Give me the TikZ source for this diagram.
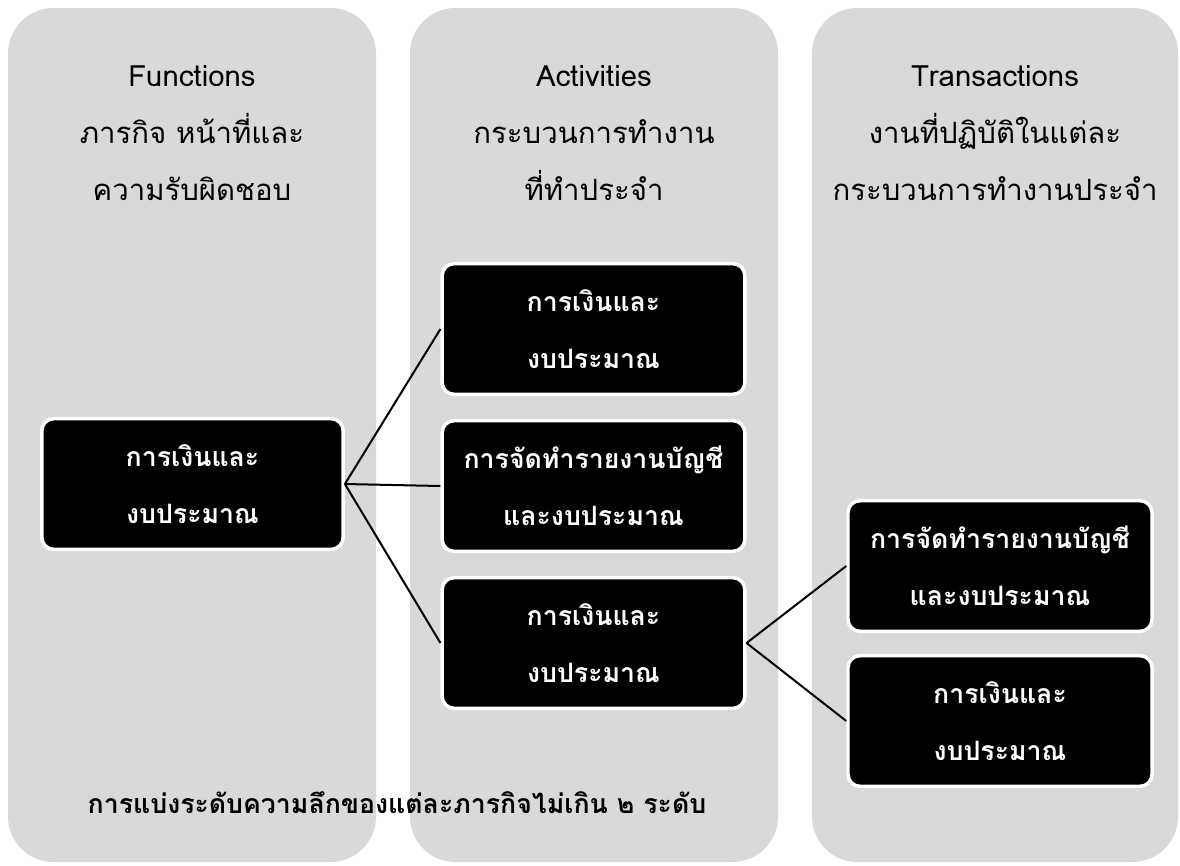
\documentclass[tikz,border=0pt]{standalone}
\usepackage{fontspec}
\setmainfont[Script=Thai]{Loma}
\definecolor{colgray}{HTML}{D9D9D9}
\begin{document}
\begin{tikzpicture}[x=0.75pt,y=-0.75pt,
  column/.style={fill=colgray,rounded corners=34pt},
  head/.style={align=center,font=\fontsize{22}{43}\selectfont,text=black},
  item/.style={fill=black,draw=white,line width=2.6pt,rounded corners=9pt,
    text=white,align=center,font=\fontsize{20}{43}\selectfont\bfseries,
    minimum height=98pt,inner sep=0pt},
  link/.style={draw=black,line width=1.5pt}]
\useasboundingbox (0,0) rectangle (1180,865);
\path[column] (8,8) rectangle (376,862);
\path[column] (410,8) rectangle (778,862);
\path[column] (812,8) rectangle (1178,862);

\node[head] (h1) at (192,133) {Functions\\ภารกิจ หน้าที่และ\\ความรับผิดชอบ};
\node[head] (h2) at (594,133) {Activities\\กระบวนการทำงาน\\ที่ทำประจำ};
\node[head] (h3) at (995,133) {Transactions\\งานที่ปฏิบัติในแต่ละ\\กระบวนการทำงานประจำ};

\node[item,minimum width=226pt] (f) at (192.5,484) {การเงินและ\\งบประมาณ};
\node[item,minimum width=227pt] (a1) at (593.5,329) {การเงินและ\\งบประมาณ};
\node[item,minimum width=227pt] (a2) at (593.5,486) {การจัดทำรายงานบัญชี\\และงบประมาณ};
\node[item,minimum width=227pt] (a3) at (593.5,643) {การเงินและ\\งบประมาณ};
\node[item,minimum width=228pt] (t1) at (1000,566) {การจัดทำรายงานบัญชี\\และงบประมาณ};
\node[item,minimum width=228pt] (t2) at (1000,721) {การเงินและ\\งบประมาณ};

\draw[link] (f.east) -- (a1.west);
\draw[link] (f.east) -- (a2.west);
\draw[link] (f.east) -- (a3.west);
\draw[link] (a3.east) -- (t1.west);
\draw[link] (a3.east) -- (t2.west);

\node[font=\fontsize{20}{24}\selectfont\bfseries] (note) at (397,803) {การแบ่งระดับความลึกของแต่ละภารกิจไม่เกิน ๒ ระดับ};
\end{tikzpicture}
\end{document}
